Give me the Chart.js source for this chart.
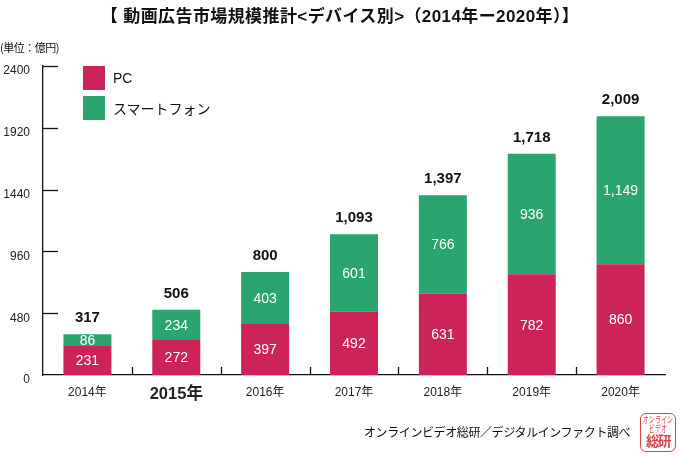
<!DOCTYPE html>
<html lang="ja">
<head>
<meta charset="utf-8">
<script src="https://cdn.jsdelivr.net/npm/chart.js@4"></script>
<style>
  html, body { margin: 0; padding: 0; background: #fff; }
  body { width: 680px; height: 456px; position: relative; overflow: hidden;
         font-family: "Liberation Sans", "Noto Sans CJK JP", sans-serif; color: #111; }
  #chart { position: absolute; left: 0; top: 0; }
  .title { position: absolute; left: 0; width: 680px; top: 2px; text-align: center;
           font: bold 17px "Liberation Sans", "Noto Sans CJK JP", sans-serif; letter-spacing: 0.4px; }
  .unit { position: absolute; left: 0; top: 39px; font: 11px "Noto Sans CJK JP", sans-serif; letter-spacing: -0.5px; }
  .legend { position: absolute; left: 83px; top: 66px; font: 14px "Liberation Sans", "Noto Sans CJK JP", sans-serif; }
  .legend div { display: flex; align-items: center; height: 24px; margin-bottom: 6px; }
  .legend span.sw { width: 22px; height: 24px; margin-right: 8px; display: inline-block; }
  .source { position: absolute; left: 364px; top: 423px; font: 12px "Noto Sans CJK JP", sans-serif; letter-spacing: -0.4px; }
  .stamp { position: absolute; left: 640px; top: 413px; width: 36px; height: 39px; border: 1.5px solid #d9434a;
           border-radius: 6px; color: #d9434a; text-align: center; font-family: "Noto Sans CJK JP", sans-serif;
           box-sizing: border-box; overflow: hidden; }
  .stamp .s { position: absolute; left: -10px; right: -10px; font-size: 9.5px; line-height: 9px; white-space: nowrap;
              transform: scaleX(0.64); transform-origin: center; }
  .stamp .b { position: absolute; left: 0; right: 0; top: 19px; font-size: 13.5px; font-weight: bold;
              letter-spacing: -1.5px; line-height: 14px; }
</style>
</head>
<body>
<canvas id="chart" width="680" height="456"></canvas>
<div class="title">【 動画広告市場規模推計&lt;デバイス別&gt;（2014年ー2020年）】</div>
<div class="unit">(単位：億円)</div>
<div class="legend" id="legend"></div>
<div class="source">オンラインビデオ総研／デジタルインファクト調べ</div>
<div class="stamp"><div class="s" style="top:1px">オンライン</div><div class="s" style="top:10px">ビデオ</div><div class="b">総研</div></div>
<script>
/* ===== DATA ===== */
const years = ['2014年', '2015年', '2016年', '2017年', '2018年', '2019年', '2020年'];
const pcValues = [231, 272, 397, 492, 631, 782, 860];
const phoneValues = [86, 234, 403, 601, 766, 936, 1149];
const totals = [317, 506, 800, 1093, 1397, 1718, 2009];
const yTicks = [0, 480, 960, 1440, 1920, 2400];
const boldYear = '2015年';

const PC = '#cc2358';
const PHONE = '#2ba56f';
const FONT = "'Liberation Sans', 'Noto Sans CJK JP', sans-serif";

/* ===== LEGEND ===== */
const legend = document.getElementById('legend');
[['PC', PC], ['スマートフォン', PHONE]].forEach(([label, color]) => {
  const row = document.createElement('div');
  row.innerHTML = `<span class="sw" style="background:${color}"></span>${label}`;
  legend.appendChild(row);
});

/* ===== TICKS + LABELS PLUGIN ===== */
const decorations = {
  id: 'decorations',
  afterDatasetsDraw(chart) {
    const { ctx, chartArea, scales: { x, y } } = chart;
    ctx.save();
    ctx.strokeStyle = '#111';
    ctx.lineWidth = 1.3;
    // short tick marks inside the plot, to the right of the y axis
    yTicks.forEach(v => {
      if (v === 0) return;
      const py = Math.round(y.getPixelForValue(v)) + 0.5;
      ctx.beginPath();
      ctx.moveTo(chartArea.left, py);
      ctx.lineTo(chartArea.left + 15, py);
      ctx.stroke();
    });
    // category separators on the x axis
    const step = (chartArea.right - chartArea.left) / years.length;
    for (let i = 1; i < years.length; i++) {
      const px = Math.round(chartArea.left + step * i) + 0.5;
      ctx.beginPath();
      ctx.moveTo(px, chartArea.bottom);
      ctx.lineTo(px, chartArea.bottom - 8);
      ctx.stroke();
    }
    // values inside segments
    ctx.textAlign = 'center';
    ctx.textBaseline = 'middle';
    ctx.fillStyle = '#fff';
    ctx.font = '14px ' + FONT;
    chart.data.datasets.forEach((ds, di) => {
      chart.getDatasetMeta(di).data.forEach((bar, i) => {
        const mid = (bar.y + bar.base) / 2;
        ctx.fillText(ds.data[i].toLocaleString('en-US'), bar.x, mid + 1);
      });
    });
    // totals above the bars
    ctx.fillStyle = '#111';
    ctx.font = 'bold 15px ' + FONT;
    const top = chart.getDatasetMeta(1).data;
    totals.forEach((t, i) => {
      ctx.fillText(t.toLocaleString('en-US'), top[i].x, top[i].y - 16);
    });
    ctx.restore();
  }
};

/* ===== CHART ===== */
new Chart(document.getElementById('chart'), {
  type: 'bar',
  data: {
    labels: years,
    datasets: [
      { label: 'PC', data: pcValues, backgroundColor: PC },
      { label: 'スマートフォン', data: phoneValues, backgroundColor: PHONE }
    ]
  },
  options: {
    responsive: false,
    animation: false,
    events: [],
    layout: { padding: { top: 66, right: 15, left: 0, bottom: 0 } },
    datasets: { bar: { categoryPercentage: 1, barPercentage: 0.54 } },
    scales: {
      x: {
        stacked: true,
        grid: { display: false, drawTicks: false },
        border: { display: true, color: '#111', width: 1.3 },
        ticks: {
          color: '#222',
          padding: 10,
          maxRotation: 0,
          font: ctx => {
            const lab = years[ctx.index];
            return lab === boldYear ? { size: 16.5, weight: 'bold', family: FONT } : { size: 12, family: FONT };
          }
        },
        afterFit: s => { s.height = 81; }
      },
      y: {
        stacked: true,
        min: 0,
        max: 2400,
        grid: { display: false, drawTicks: false },
        border: { display: true, color: '#111', width: 1.3 },
        afterBuildTicks: s => { s.ticks = yTicks.map(v => ({ value: v })); },
        ticks: {
          color: '#222', padding: 13, labelOffset: 5,
          font: { size: 12, family: FONT },
          callback: v => String(v)
        },
        afterFit: s => { s.width = 43; }
      }
    },
    plugins: { legend: { display: false }, tooltip: { enabled: false } }
  },
  plugins: [decorations]
});
</script>
</body>
</html>
